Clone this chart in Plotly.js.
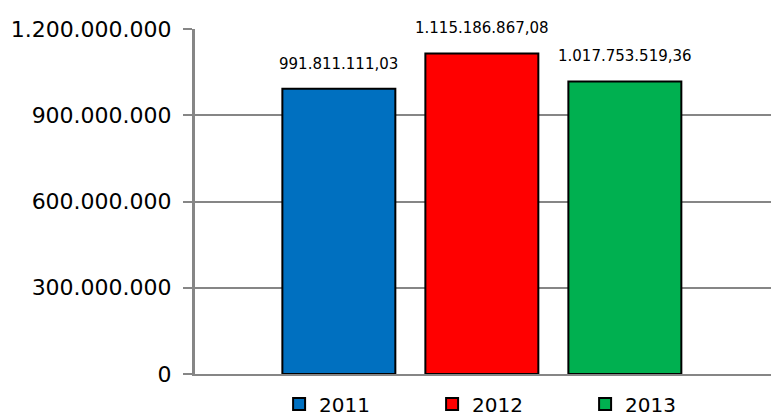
<!DOCTYPE html>
<html>
<head>
<meta charset="utf-8">
<script src="https://cdn.plot.ly/plotly-3.0.1.min.js"></script>
<style>html,body{margin:0;padding:0;background:#fff;}#chart{width:771px;height:416px;}</style>
</head>
<body>
<div id="chart"></div>
<script>
// Data
var years = ['2011', '2012', '2013'];
var values = [991811111.03, 1115186867.08, 1017753519.36];
var colors = ['#0070C0', '#FF0000', '#00B050'];
var yTicks = [0, 300000000, 600000000, 900000000, 1200000000];

function fmt(v) {
  var parts = v.toFixed(2).split('.');
  var intPart = parts[0].replace(/\B(?=(\d{3})+(?!\d))/g, '.');
  return intPart + ',' + parts[1];
}

var traces = years.map(function (yr, i) {
  return {
    type: 'bar',
    name: yr,
    x: [yr],
    y: [values[i]],
    width: 0.79,
    marker: { color: colors[i], line: { color: '#000000', width: 2 } },
    hoverinfo: 'skip'
  };
});

var annotations = years.map(function (yr, i) {
  return {
    x: i, y: values[i], xref: 'x', yref: 'y',
    text: fmt(values[i]), showarrow: false,
    yshift: 25,
    font: { family: 'DejaVu Sans', size: 15, color: '#000000' }
  };
});

var layout = {
  width: 771, height: 416,
  margin: { l: 195, r: 0, t: 29, b: 42, pad: 0, autoexpand: false },
  paper_bgcolor: '#ffffff', plot_bgcolor: '#ffffff',
  font: { family: 'DejaVu Sans', color: '#000000' },
  separators: ',.',
  barmode: 'overlay',
  showlegend: true,
  legend: {
    orientation: 'h', x: 0.146, xanchor: 'left', y: -0.087, yanchor: 'middle',
    font: { family: 'DejaVu Sans', size: 20, color: '#000000' },
    entrywidth: 108, entrywidthmode: 'pixels',
    itemclick: false, bgcolor: 'rgba(0,0,0,0)'
  },
  xaxis: {
    type: 'category', categoryorder: 'array', categoryarray: years,
    range: [-1.006, 3.022],
    showticklabels: false, ticks: '', showgrid: false, zeroline: false,
    showline: true, linecolor: '#868686', linewidth: 2, fixedrange: true
  },
  yaxis: {
    range: [0, 1200000000],
    tickvals: yTicks, tickformat: ',d',
    ticks: 'outside', ticklen: 9, tickwidth: 2, tickcolor: '#868686',
    ticklabelstandoff: 7,
    tickfont: { family: 'DejaVu Sans', size: 22, color: '#000000' },
    showgrid: true, gridcolor: '#868686', gridwidth: 2,
    zeroline: false,
    showline: true, linecolor: '#868686', linewidth: 3, fixedrange: true
  },
  annotations: annotations
};

Plotly.newPlot('chart', traces, layout, { displayModeBar: false, staticPlot: true });
</script>
</body>
</html>
